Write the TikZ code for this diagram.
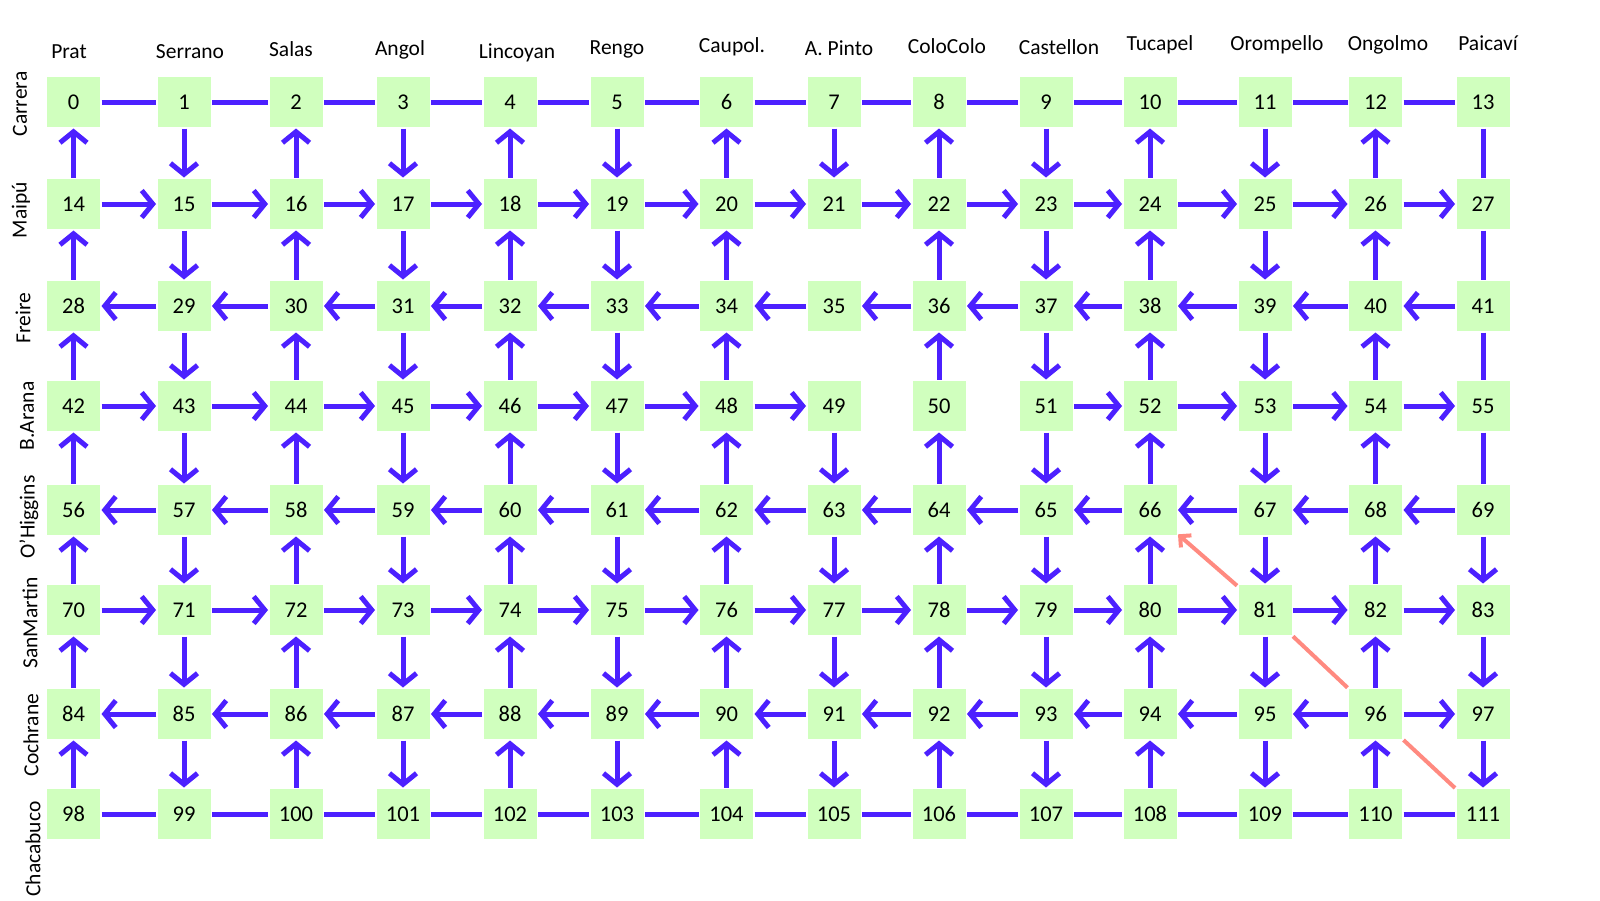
\documentclass[tikz,border=0pt]{standalone}
\usepackage{fontspec}
\setmainfont{Carlito}
\usetikzlibrary{arrows.meta}
\definecolor{cellgreen}{RGB}{208,255,190}
\definecolor{arrowblue}{RGB}{76,32,255}
\definecolor{pathred}{RGB}{255,138,128}
\tikzset{
  cell/.style={fill=cellgreen, minimum width=53pt, minimum height=50pt, inner sep=0pt, outer sep=1.5pt, font=\fontsize{22.5}{26}\selectfont},
  road/.style={draw=arrowblue, line width=5pt},
  oneway/.style={road, -{Straight Barb[length=11pt,width=27pt]}},
  street/.style={font=\fontsize{21.5}{25}\selectfont, inner sep=0pt},
  sidestreet/.style={street, rotate=90},
  redpath/.style={draw=pathred, line width=4pt},
}
\begin{document}
\begin{tikzpicture}[x=1pt,y=-1pt]
\useasboundingbox (0,0) rectangle (1600,900);
% nodes
\foreach \r/\yy in {0/102,1/204,2/306,3/406,4/510,5/610,6/714,7/814}{
  \foreach \c/\xx in {0/73.5,1/184,2/296,3/403,4/510,5/617,6/726.5,7/834,8/939,9/1046,10/1150,11/1265,12/1375.5,13/1483}{
    \pgfmathtruncatemacro\k{\r*14+\c}
    \node[cell] (n\k) at (\xx,\yy) {\k};
  }
}
% top street labels
\node[street] (sPrat) at (69,52) {Prat};
\node[street] (sSerrano) at (190,52) {Serrano};
\node[street] (sSalas) at (291,49) {Salas};
\node[street] (sAngol) at (400,50) {Angol};
\node[street] (sLincoyan) at (517,53) {Lincoyan};
\node[street] (sRengo) at (617,49) {Rengo};
\node[street] (sCaupol) at (732,47) {Caupol.};
\node[street] (sPinto) at (839,48) {A. Pinto};
\node[street] (sColo) at (947,46) {ColoColo};
\node[street] (sCastellon) at (1059,47) {Castellon};
\node[street] (sTucapel) at (1160,45) {Tucapel};
\node[street] (sOrompello) at (1277,45) {Orompello};
\node[street] (sOngolmo) at (1388,45) {Ongolmo};
\node[street] (sPaicavi) at (1488,43) {Paicaví};
% side street labels
\node[sidestreet] (sCarrera) at (20,104) {Carrera};
\node[sidestreet] (sMaipu) at (21,210) {Maipú};
\node[sidestreet] (sFreire) at (23,318) {Freire};
\node[sidestreet] (sArana) at (27,416) {B.Arana};
\node[sidestreet] (sHiggins) at (29,517) {O'Higgins};
\node[sidestreet] (sMartin) at (30,623) {SanMartin};
\node[sidestreet] (sCochrane) at (31,735) {Cochrane};
\node[sidestreet] (sChacabuco) at (33,849) {Chacabuco};
% plain two-way roads
\foreach \a in {0,...,12}{\pgfmathtruncatemacro\b{\a+1}\draw[road] (n\a) -- (n\b);}
\foreach \a in {98,...,110}{\pgfmathtruncatemacro\b{\a+1}\draw[road] (n\a) -- (n\b);}
\foreach \a in {13,27,41,55}{\pgfmathtruncatemacro\b{\a+14}\draw[road] (n\a) -- (n\b);}
% eastbound
\foreach \a in {14,...,26}{\pgfmathtruncatemacro\b{\a+1}\draw[oneway] (n\a) -- (n\b);}
\foreach \a in {42,...,48}{\pgfmathtruncatemacro\b{\a+1}\draw[oneway] (n\a) -- (n\b);}
\foreach \a in {51,...,54}{\pgfmathtruncatemacro\b{\a+1}\draw[oneway] (n\a) -- (n\b);}
\foreach \a in {70,...,82}{\pgfmathtruncatemacro\b{\a+1}\draw[oneway] (n\a) -- (n\b);}
\draw[oneway] (n96) -- (n97);
% westbound
\foreach \a in {29,...,41}{\pgfmathtruncatemacro\b{\a-1}\draw[oneway] (n\a) -- (n\b);}
\foreach \a in {57,...,69}{\pgfmathtruncatemacro\b{\a-1}\draw[oneway] (n\a) -- (n\b);}
\foreach \a in {85,...,96}{\pgfmathtruncatemacro\b{\a-1}\draw[oneway] (n\a) -- (n\b);}
% northbound (even columns)
\foreach \c in {0,2,4,6,8,10,12}{
  \foreach \r in {0,...,6}{
    \pgfmathtruncatemacro\top{\r*14+\c}
    \pgfmathtruncatemacro\bot{\top+14}
    \draw[oneway] (n\bot) -- (n\top);
  }
}
% southbound (odd columns)
\foreach \c in {1,3,5,9,11}{
  \foreach \r in {0,...,6}{
    \pgfmathtruncatemacro\top{\r*14+\c}
    \pgfmathtruncatemacro\bot{\top+14}
    \draw[oneway] (n\top) -- (n\bot);
  }
}
\foreach \a in {7,49,63,77,91}{\pgfmathtruncatemacro\b{\a+14}\draw[oneway] (n\a) -- (n\b);}
\foreach \a in {69,83,97}{\pgfmathtruncatemacro\b{\a+14}\draw[oneway] (n\a) -- (n\b);}
% red route
\draw[redpath] (n111) -- (n96);
\draw[redpath] (n96) -- (n81);
\draw[redpath, -{Straight Barb[length=8pt,width=16pt]}] (n81) -- (n66);
\end{tikzpicture}
\end{document}
